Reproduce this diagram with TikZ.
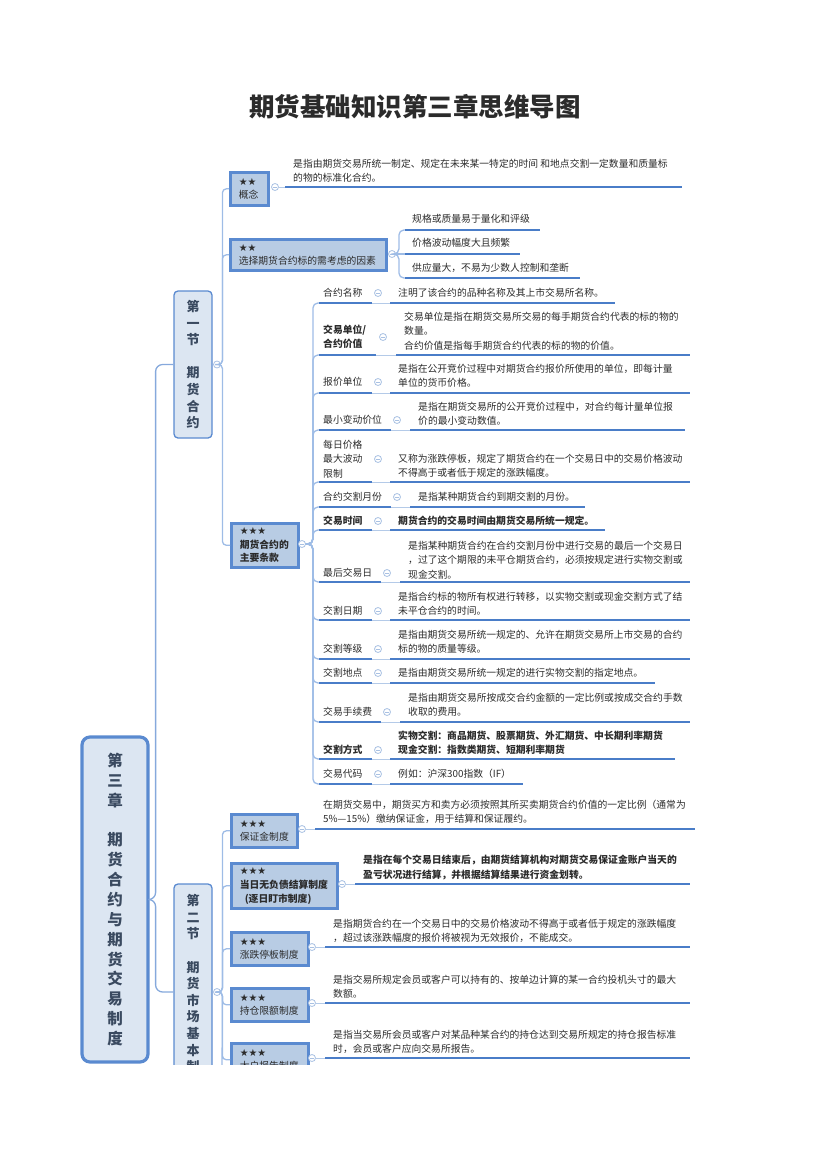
\documentclass[tikz,border=0pt]{standalone}
\usepackage{fontspec}
\setmainfont{Noto Sans CJK SC}
\newfontfamily\symf{DejaVu Sans}
\definecolor{boxfill}{HTML}{B8CCE4}
\definecolor{boxdraw}{HTML}{5A8AD0}
\definecolor{secfill}{HTML}{DCE6F2}
\definecolor{ulc}{HTML}{4A7DC8}
\definecolor{gapc}{HTML}{B4CAE8}
\definecolor{connc}{HTML}{9EBCE6}
\definecolor{rootc}{HTML}{86A9DC}
\definecolor{collc}{HTML}{A9C1E3}
\definecolor{txtc}{HTML}{2B2B2B}
\definecolor{secc}{HTML}{3A4A60}
\newcommand\mmul[5]{\draw[uline] (#2,#1) -- (#3,#1); \draw[gline] (#3,#1) -- (#4,#1); \draw[uline] (#4,#1) -- (#5,#1);}
\tikzset{
  txt/.style={font=\fontsize{9.8}{14.3}\selectfont, text=txtc, inner sep=0pt, align=left, anchor=west},
  boldtxt/.style={txt, font=\fontsize{9.8}{14.3}\selectfont\bfseries},
  leafbox/.style={draw=boxdraw, line width=2.6pt, fill=boxfill, anchor=north west, inner xsep=8.5pt, inner ysep=0pt, align=left, font=\fontsize{9.8}{13.5}\selectfont, text=txtc},
  secbox/.style={draw=boxdraw, line width=1.3pt, fill=secfill, rounded corners=4pt, minimum width=38pt, align=center, font=\fontsize{13}{16.6}\selectfont\bfseries, text=secc, inner sep=0pt},
  rootbox/.style={draw=boxdraw, line width=3.2pt, fill=secfill, rounded corners=8pt, minimum width=66pt, minimum height=325pt, align=center, font=\fontsize{15.5}{19.86}\selectfont\bfseries, text=secc, inner sep=0pt},
  uline/.style={draw=ulc, line width=2pt},
  gline/.style={draw=gapc, line width=0.9pt},
  conn/.style={draw=connc, line width=1.3pt, rounded corners=5pt},
  rconn/.style={draw=rootc, line width=1.3pt, rounded corners=7pt},
  coll/.style={circle, draw=collc, fill=white, line width=0.8pt, minimum size=7pt, inner sep=0pt,
    path picture={\draw[collc, line width=0.8pt] ([xshift=-2pt]path picture bounding box.center) -- ([xshift=2pt]path picture bounding box.center);}},
  ttl/.style={font=\fontsize{25.5}{30}\selectfont\bfseries, text=txtc, inner sep=0pt}
}
\begin{document}
\begin{tikzpicture}[x=1pt,y=-1pt]
\useasboundingbox (0,0) rectangle (830,1175);
\node[ttl] (title) at (415,107) {期货基础知识第三章思维导图};
\begin{scope}
\clip (0,0) rectangle (830,1064);
% root and sections
\node[rootbox] (root) at (115,899.5) {第\\三\\章\\\mbox{}\\期\\货\\合\\约\\与\\期\\货\\交\\易\\制\\度};
\node[secbox, minimum height=147pt] (sec1) at (193,364.5) {第\\一\\节\\\mbox{}\\期\\货\\合\\约};
\node[secbox, minimum height=216pt] (sec2) at (193,992) {第\\二\\节\\\mbox{}\\期\\货\\市\\场\\基\\本\\制\\度};
\draw[rconn] (root.east) -- ++(6,0) |- (sec1.west);
\draw[rconn] (root.east) -- ++(6,0) |- (sec2.west);
\node[coll] (cs1) at (217,364.5) {};
\node[coll] (cs2) at (217,992) {};
% section 1 boxes
\node[leafbox, text width=21pt, minimum height=33pt] (b1) at (229,171) {{\symf ★★}\\概念};
\node[leafbox, text width=139pt, minimum height=31pt] (b2) at (229,238) {{\symf ★★}\\选择期货合约标的需考虑的因素};
\node[leafbox, text width=50pt, minimum height=44pt, font=\fontsize{9.8}{13.5}\selectfont\bfseries] (b3) at (230,522) {{\symf ★★★}\\期货合约的\\主要条款};
\draw[conn, rounded corners=4pt] (cs1.east) -- ++(1.5,0) |- (b1.west);
\draw[conn, rounded corners=4pt] (cs1.east) -- ++(1.5,0) |- (b2.west);
\draw[conn, rounded corners=4pt] (cs1.east) -- ++(1.5,0) |- (b3.west);
\node[coll] (cb1) at (275,187) {};
\node[coll] (cb2) at (392,254) {};
\node[coll] (cb3) at (302,544) {};
% 概念
\node[txt] (db1) at (293,170.5) {是指由期货交易所统一制定、规定在未来某一特定的时间 和地点交割一定数量和质量标\\的物的标准化合约。};
\coordinate (ub1) at (285,187);
\draw[gline] (cb1.east) -- (ub1);
\draw[uline] (ub1) -- (682,187);
% 选择因素
\coordinate (f1) at (405,230);
\coordinate (f2) at (405,254);
\coordinate (f3) at (405,278);
\draw[conn] (cb2.east) -- ++(3,0) |- (f1);
\draw[conn] (cb2.east) -- (f2);
\draw[conn] (cb2.east) -- ++(3,0) |- (f3);
\draw[uline] (f1) -- (540,230);
\draw[uline] (f2) -- (520,254);
\draw[uline] (f3) -- (580,278);
\node[txt] (tf1) at (412,219) {规格或质量易于量化和评级};
\node[txt] (tf2) at (412,243) {价格波动幅度大且频繁};
\node[txt] (tf3) at (412,268) {供应量大，不易为少数人控制和垄断};
% contract clauses
\foreach \n/\y in {1/303,2/355,3/393,4/430,5/482,6/507,7/530,8/582,9/620,10/659,11/683,12/722,13/759,14/784}{
  \coordinate (u\n) at (319,\y);
  \draw[conn] (cb3.east) -- ++(7,0) |- (u\n);
}
% 1
\node[txt] (l1) at (323,293) {合约名称};
\node[coll] (k1) at (378,293) {};
\node[txt] (d1) at (398,293) {注明了该合约的品种名称及其上市交易所名称。};
\mmul{303}{319}{372}{390}{615}
% 2
\node[boldtxt] (l2) at (323,337) {交易单位/\\合约价值};
\node[coll] (k2) at (383,337) {};
\node[txt] (d2) at (404,331) {交易单位是指在期货交易所交易的每手期货合约代表的标的物的\\数量。\\合约价值是指每手期货合约代表的标的物的价值。};
\mmul{355}{319}{376}{396}{690}
% 3
\node[txt] (l3) at (323,382) {报价单位};
\node[coll] (k3) at (378,382) {};
\node[txt] (d3) at (398,375.5) {是指在公开竞价过程中对期货合约报价所使用的单位，即每计量\\单位的货币价格。};
\mmul{393}{319}{372}{390}{690}
% 4
\node[txt] (l4) at (323,420) {最小变动价位};
\node[coll] (k4) at (397,420) {};
\node[txt] (d4) at (418,414) {是指在期货交易所的公开竞价过程中，对合约每计量单位报\\价的最小变动数值。};
\mmul{430}{319}{391}{410}{685}
% 5
\node[txt] (l5) at (323,459) {每日价格\\最大波动\\限制};
\node[coll] (k5) at (378,459) {};
\node[txt] (d5) at (398,466) {又称为涨跌停板，规定了期货合约在一个交易日中的交易价格波动\\不得高于或者低于规定的涨跌幅度。};
\mmul{482}{319}{372}{390}{690}
% 6
\node[txt] (l6) at (323,497) {合约交割月份};
\node[coll] (k6) at (397,497) {};
\node[txt] (d6) at (418,497) {是指某种期货合约到期交割的月份。};
\mmul{507}{319}{391}{410}{585}
% 7
\node[boldtxt] (l7) at (323,521) {交易时间};
\node[coll] (k7) at (378,521) {};
\node[boldtxt] (d7) at (398,521) {期货合约的交易时间由期货交易所统一规定。};
\mmul{530}{319}{372}{390}{605}
% 8
\node[txt] (l8) at (323,573) {最后交易日};
\node[coll] (k8) at (387,573) {};
\node[txt] (d8) at (408,560) {是指某种期货合约在合约交割月份中进行交易的最后一个交易日\\，过了这个期限的未平仓期货合约，必须按规定进行实物交割或\\现金交割。};
\mmul{582}{319}{381}{400}{690}
% 9
\node[txt] (l9) at (323,611) {交割日期};
\node[coll] (k9) at (378,611) {};
\node[txt] (d9) at (398,604) {是指合约标的物所有权进行转移，以实物交割或现金交割方式了结\\未平仓合约的时间。};
\mmul{620}{319}{372}{390}{690}
% 10
\node[txt] (l10) at (323,649) {交割等级};
\node[coll] (k10) at (378,649) {};
\node[txt] (d10) at (398,642) {是指由期货交易所统一规定的、允许在期货交易所上市交易的合约\\标的物的质量等级。};
\mmul{659}{319}{372}{390}{690}
% 11
\node[txt] (l11) at (323,673) {交割地点};
\node[coll] (k11) at (378,673) {};
\node[txt] (d11) at (398,673) {是指由期货交易所统一规定的进行实物交割的指定地点。};
\mmul{683}{319}{372}{390}{655}
% 12
\node[txt] (l12) at (323,712) {交易手续费};
\node[coll] (k12) at (387,712) {};
\node[txt] (d12) at (408,705) {是指由期货交易所按成交合约金额的一定比例或按成交合约手数\\收取的费用。};
\mmul{722}{319}{381}{400}{690}
% 13
\node[boldtxt] (l13) at (323,750) {交割方式};
\node[coll] (k13) at (378,750) {};
\node[boldtxt] (d13) at (398,743) {实物交割：商品期货、股票期货、外汇期货、中长期利率期货\\现金交割：指数类期货、短期利率期货};
\mmul{759}{319}{372}{390}{675}
% 14
\node[txt] (l14) at (323,774) {交易代码};
\node[coll] (k14) at (378,774) {};
\node[txt] (d14) at (398,774) {例如：沪深300指数（IF）};
\mmul{784}{319}{372}{390}{523}
% section 2 boxes
\node[leafbox, text width=49pt, minimum height=33pt] (b4) at (230,813) {{\symf ★★★}\\保证金制度};
\node[leafbox, text width=89pt, minimum height=45pt, font=\fontsize{9.8}{13.8}\selectfont\bfseries] (b5) at (230,862) {{\symf ★★★}\\当日无负债结算制度\\\hspace*{5pt}(逐日盯市制度)};
\node[leafbox, text width=60pt, minimum height=33pt] (b6) at (230,931) {{\symf ★★★}\\涨跌停板制度};
\node[leafbox, text width=60pt, minimum height=33pt] (b7) at (230,987) {{\symf ★★★}\\持仓限额制度};
\node[leafbox, text width=60pt, minimum height=33pt] (b8) at (230,1042) {{\symf ★★★}\\大户报告制度};
\coordinate (more) at (222,1080);
\draw[conn, rounded corners=4pt] (cs2.east) -- ++(1.5,0) |- (b4.west);
\draw[conn, rounded corners=4pt] (cs2.east) -- ++(1.5,0) |- (b5.west);
\draw[conn, rounded corners=4pt] (cs2.east) -- ++(1.5,0) |- (b6.west);
\draw[conn, rounded corners=4pt] (cs2.east) -- ++(1.5,0) |- (b7.west);
\draw[conn, rounded corners=4pt] (cs2.east) -- ++(1.5,0) |- (b8.west);
\draw[conn, rounded corners=4pt] (cs2.east) -- ++(1.5,0) -- (more);
\node[coll] (cb4) at (302,829) {};
\node[coll] (cb5) at (342,884) {};
\node[coll] (cb6) at (312,947) {};
\node[coll] (cb7) at (312,1003) {};
\node[coll] (cb8) at (312,1058) {};
\node[txt] (db4) at (323,811.5) {在期货交易中，期货买方和卖方必须按照其所买卖期货合约价值的一定比例（通常为\\5\%—15\%）缴纳保证金，用于结算和保证履约。};
\node[boldtxt] (db5) at (363,867.5) {是指在每个交易日结束后，由期货结算机构对期货交易保证金账户当天的\\盈亏状况进行结算，并根据结算结果进行资金划转。};
\node[txt] (db6) at (333,931) {是指期货合约在一个交易日中的交易价格波动不得高于或者低于规定的涨跌幅度\\，超过该涨跌幅度的报价将被视为无效报价，不能成交。};
\node[txt] (db7) at (333,987) {是指交易所规定会员或客户可以持有的、按单边计算的某一合约投机头寸的最大\\数额。};
\node[txt] (db8) at (333,1042) {是指当交易所会员或客户对某品种某合约的持仓达到交易所规定的持仓报告标准\\时，会员或客户应向交易所报告。};
\coordinate (ub4) at (315,829);
\coordinate (ub5) at (355,884);
\coordinate (ub6) at (325,947);
\coordinate (ub7) at (325,1003);
\coordinate (ub8) at (325,1058);
\draw[gline] (cb4.east) -- (ub4); \draw[uline] (ub4) -- (695,829);
\draw[gline] (cb5.east) -- (ub5); \draw[uline] (ub5) -- (690,884);
\draw[gline] (cb6.east) -- (ub6); \draw[uline] (ub6) -- (690,947);
\draw[gline] (cb7.east) -- (ub7); \draw[uline] (ub7) -- (690,1003);
\draw[gline] (cb8.east) -- (ub8); \draw[uline] (ub8) -- (690,1058);
\end{scope}
\end{tikzpicture}
\end{document}
